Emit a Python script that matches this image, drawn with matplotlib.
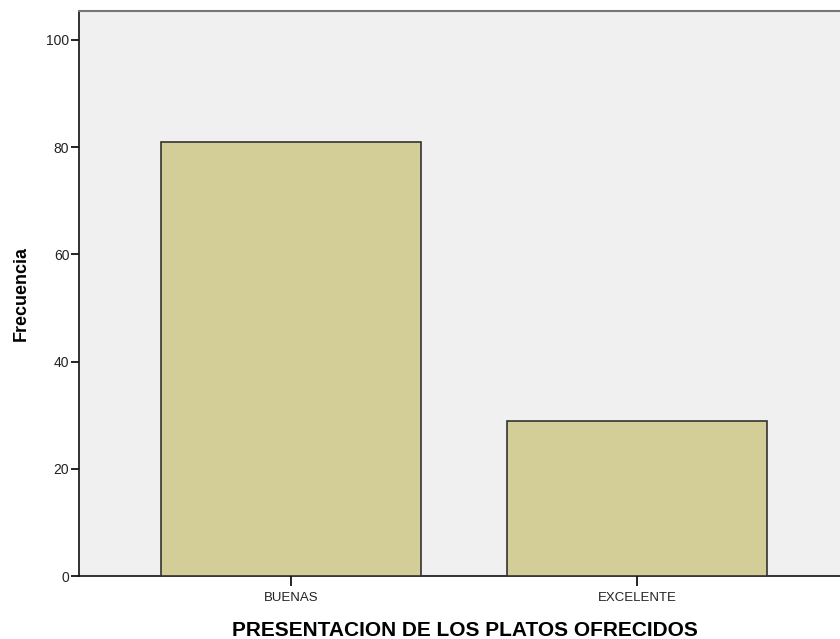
# Bar chart: PRESENTACION DE LOS PLATOS OFRECIDOS

import matplotlib
matplotlib.use("Agg")
from matplotlib import pyplot as plt

categories = ["BUENAS", "EXCELENTE"]
frequencies = [81, 29]
y_ticks = [0, 20, 40, 60, 80, 100]

plt.rcParams['font.family'] = ['Liberation Sans', 'DejaVu Sans']

fig = plt.figure(figsize=(8.4, 6.39), dpi=100)
ax = fig.add_axes([79 / 840, 63 / 639, 1 - 79 / 840, (576 - 11) / 639])
ax.set_facecolor('#f0f0f0')

x = range(len(categories))
ax.bar(x, frequencies, width=0.75, color='#d3ce97', edgecolor='#333333',
       linewidth=1.2, zorder=3)

ax.set_xlim(-0.613, 1.587)
ax.set_ylim(0, 105.4)
ax.set_xticks(list(x))
ax.set_xticklabels(categories, fontsize=9.5, color='#222222')
ax.set_yticks(y_ticks)
ax.set_yticklabels([str(v) for v in y_ticks], fontsize=10, color='#222222')

ax.tick_params(axis='y', direction='out', length=6, width=1.2, pad=1)
ax.tick_params(axis='x', direction='out', length=7, width=1.2, pad=4.5)

ax.spines['left'].set_color('#111111')
ax.spines['left'].set_linewidth(1.2)
ax.spines['bottom'].set_color('#111111')
ax.spines['bottom'].set_linewidth(1.2)
ax.spines['top'].set_color('#777777')
ax.spines['top'].set_linewidth(1.5)
ax.spines['right'].set_visible(False)

ax.set_xlabel('PRESENTACION DE LOS PLATOS OFRECIDOS', fontsize=15,
              fontweight='bold')
ax.xaxis.set_label_coords(0.5066, -0.080)
ax.set_ylabel('Frecuencia', fontsize=13, fontweight='bold', labelpad=12)

fig.savefig('out.png', dpi=100)
